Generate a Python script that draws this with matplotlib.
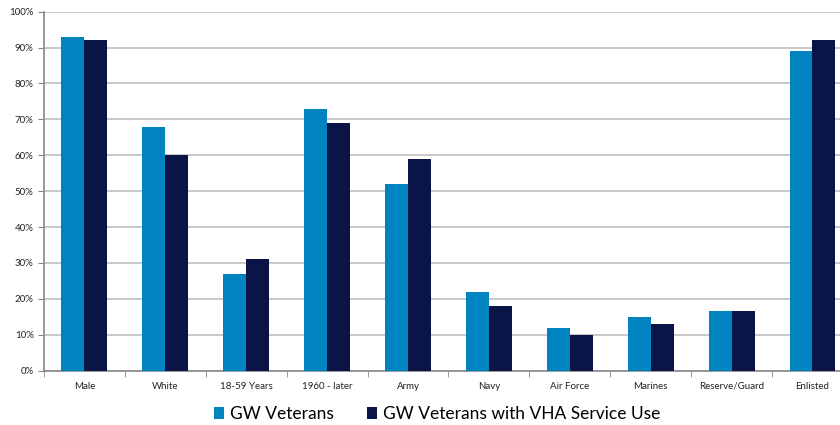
import numpy as np
import matplotlib.pyplot as plt
from matplotlib.ticker import FuncFormatter

plt.rcParams['font.family'] = ['Lato', 'DejaVu Sans']

categories = ['Male', 'White', '18-59 Years', '1960 - later', 'Army', 'Navy',
              'Air Force', 'Marines', 'Reserve/Guard', 'Enlisted']
gw_veterans = [93, 68, 27, 73, 52, 22, 12, 15, 16.5, 89]
gw_vha_users = [92, 60, 31, 69, 59, 18, 10, 13, 16.5, 92]

light = '#0083C0'
dark = '#0B1446'
axis_grey = '#888888'

fig = plt.figure(figsize=(8.4, 4.25), dpi=100)
ax = fig.add_axes([0.0524, 0.1278, 0.963, 0.8447])

x = np.arange(len(categories))
w = 0.284
ax.bar(x - w / 2, gw_veterans, w, color=light, label='GW Veterans', zorder=3)
ax.bar(x + w / 2, gw_vha_users, w, color=dark, label='GW Veterans with VHA Service Use', zorder=3)

ax.set_xlim(-0.5, len(categories) - 0.5)
ax.set_ylim(0, 100)
ax.set_yticks(np.arange(0, 101, 10))
ax.yaxis.set_major_formatter(FuncFormatter(lambda v, p: '%d%%' % v))
ax.yaxis.grid(True, color='#BFBFBF', linewidth=1.2, zorder=0)

# category labels in the middle, tick marks on the boundaries
ax.set_xticks(x)
ax.set_xticklabels(categories)
ax.tick_params(axis='x', which='major', length=0, labelsize=7, pad=8, colors='#222222')
ax.set_xticks(np.arange(-0.5, len(categories), 1), minor=True)
ax.tick_params(axis='x', which='minor', length=4, color=axis_grey, direction='out')
ax.tick_params(axis='y', length=4, labelsize=7, colors='#222222')
ax.tick_params(axis='y', color=axis_grey)

for s in ['top', 'right']:
    ax.spines[s].set_visible(False)
for s in ['left', 'bottom']:
    ax.spines[s].set_color(axis_grey)
    ax.spines[s].set_linewidth(1.2)

fig.legend(loc='center', bbox_to_anchor=(0.52, 0.026), ncol=2, frameon=False,
           fontsize=12.5, handlelength=0.63, handleheight=0.63, handletextpad=0.3,
           columnspacing=1.9, borderpad=0)

fig.savefig('out.png', dpi=100)
